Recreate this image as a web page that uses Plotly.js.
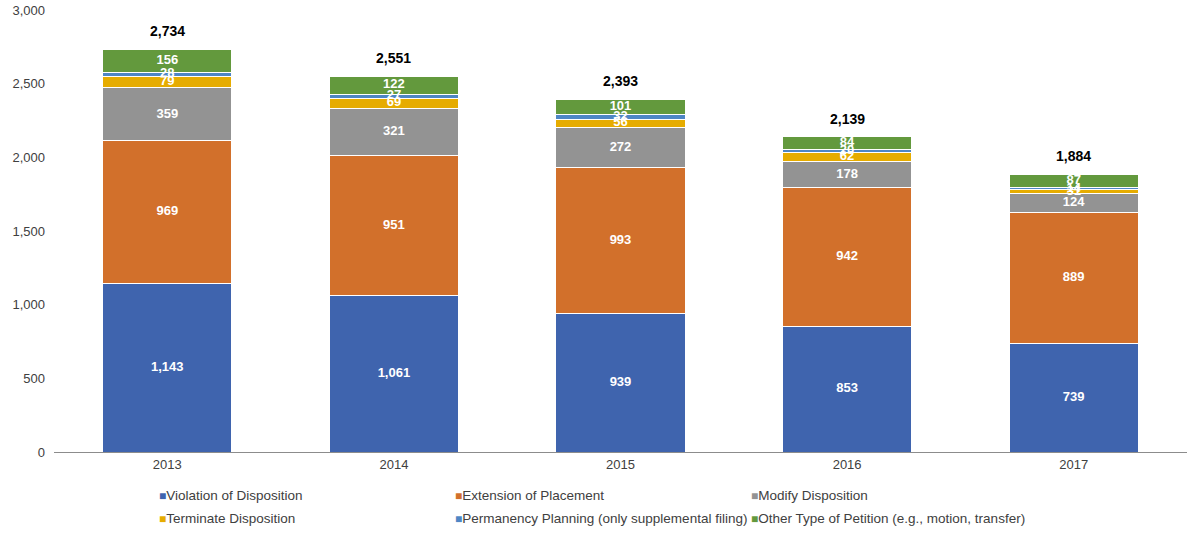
<!DOCTYPE html>
<html>
<head>
<meta charset="utf-8">
<script src="https://cdn.plot.ly/plotly-3.0.1.min.js"></script>
<style>html,body{margin:0;padding:0;background:#fff;}#chart{width:1187px;height:533px;}</style>
</head>
<body>
<div id="chart"></div>
<script>
const years = ['2013', '2014', '2015', '2016', '2017'];
const violation = [1143, 1061, 939, 853, 739];
const extension = [969, 951, 993, 942, 889];
const modify = [359, 321, 272, 178, 124];
const terminate = [79, 69, 56, 62, 31];
const permanency = [28, 27, 32, 20, 14];
const other = [156, 122, 101, 84, 87];
const seriesNames = ['Violation of Disposition', 'Extension of Placement', 'Modify Disposition',
  'Terminate Disposition', 'Permanency Planning (only supplemental filing)', 'Other Type of Petition (e.g., motion, transfer)'];
const seriesColors = ['#3F64AE', '#D2702B', '#939393', '#E6AC00', '#4E86C5', '#63993D'];
const seriesData = [violation, extension, modify, terminate, permanency, other];

const fmt = v => v.toLocaleString('en-US');
const font = 'Liberation Sans, Arial, sans-serif';

const traces = seriesData.map((vals, i) => ({
  type: 'bar', x: years, y: vals, name: seriesNames[i],
  marker: {color: seriesColors[i], line: {color: '#ffffff', width: 1}},
  textposition: 'none', hoverinfo: 'none', showlegend: false
}));
// segment labels drawn on top (midpoint of each stacked segment)
const base = years.map(() => 0);
seriesData.forEach((vals, i) => {
  const mids = vals.map((v, j) => base[j] + v / 2);
  vals.forEach((v, j) => { base[j] += v; });
  traces.push({
    type: 'scatter', mode: 'text', x: years, y: mids, text: vals.map(fmt),
    textposition: 'middle center', showlegend: false, hoverinfo: 'none', cliponaxis: false,
    textfont: {color: '#ffffff', size: 13, family: font, weight: 'bold'}
  });
});
const totals = base;
const annotations = years.map((yr, j) => ({
  x: yr, y: totals[j], text: fmt(totals[j]), showarrow: false, yanchor: 'bottom', yshift: 8,
  font: {color: '#000000', size: 14, family: font, weight: 'bold'}
}));
// legend built from series names/colours (3 columns x 2 rows)
const colPx = [157, 453, 749], rowPx = [495, 518];
seriesNames.forEach((nm, i) => {
  const c = i % 3, r = Math.floor(i / 3);
  annotations.push({
    xref: 'paper', yref: 'paper', x: (colPx[c] - 54) / 1133, y: (452 - rowPx[r]) / 442,
    xanchor: 'left', yanchor: 'middle', showarrow: false, align: 'left',
    text: '<span style="color:' + seriesColors[i] + ';font-size:12px">■</span>' + nm,
    font: {size: 13.5, color: '#404040', family: font}
  });
});

const layout = {
  width: 1187, height: 533,
  margin: {l: 54, r: 0, t: 10, b: 81},
  barmode: 'stack', bargap: 0.43,
  paper_bgcolor: '#ffffff', plot_bgcolor: '#ffffff',
  font: {family: font, size: 13, color: '#404040'},
  annotations: annotations,
  xaxis: {showline: true, linecolor: '#8c8c8c', linewidth: 1, ticks: '', tickfont: {size: 13, color: '#404040'}},
  yaxis: {range: [0, 3000], dtick: 500, tickformat: ',d', showgrid: false, zeroline: false, showline: false,
          ticks: '', ticklen: 0, ticklabelstandoff: 8, tickfont: {size: 13, color: '#404040'}},
  showlegend: false
};
Plotly.newPlot('chart', traces, layout, {displayModeBar: false, staticPlot: true});
</script>
</body>
</html>
